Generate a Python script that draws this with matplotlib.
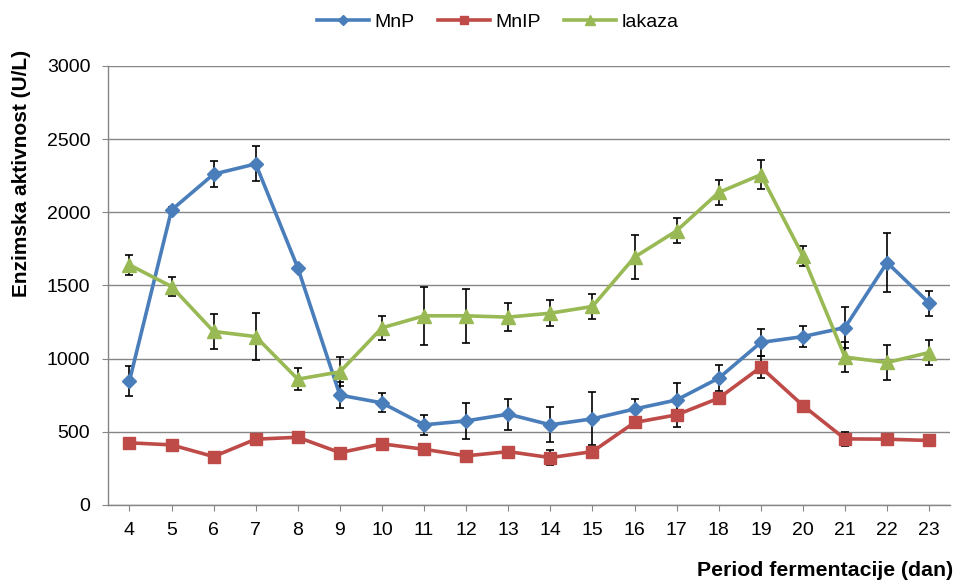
import matplotlib
matplotlib.use("Agg")
import matplotlib.pyplot as plt
import numpy as np

plt.rcParams['font.family'] = ['Liberation Sans', 'DejaVu Sans']

days = [4, 5, 6, 7, 8, 9, 10, 11, 12, 13, 14, 15, 16, 17, 18, 19, 20, 21, 22, 23]
mnp = [847, 2015, 2260, 2330, 1620, 750, 697, 547, 574, 620, 547, 588, 655, 717, 866, 1110, 1150, 1212, 1656, 1379]
mnp_err = [100, 20, 90, 120, 0, 90, 65, 70, 125, 105, 120, 180, 70, 115, 90, 90, 70, 140, 200, 85]
mnip = [424, 410, 330, 449, 462, 357, 417, 380, 335, 364, 323, 364, 563, 615, 729, 941, 679, 451, 449, 440]
mnip_err = [0, 15, 0, 35, 0, 35, 0, 0, 0, 0, 50, 0, 0, 80, 0, 75, 0, 50, 0, 0]
lak = [1640, 1492, 1185, 1150, 859, 909, 1210, 1292, 1292, 1283, 1310, 1356, 1693, 1873, 2135, 2256, 1702, 1010, 973, 1041]
lak_err = [70, 65, 120, 160, 75, 100, 80, 200, 185, 95, 88, 87, 148, 85, 85, 100, 70, 100, 120, 85]

series = [
    ("MnP", mnp, mnp_err, "#4A7EBB", "D", 7.5),
    ("MnIP", mnip, mnip_err, "#BE4B48", "s", 8),
    ("lakaza", lak, lak_err, "#98B954", "^", 10.5),
]

fig = plt.figure(figsize=(9.55, 5.83), dpi=100)
ax = fig.add_axes([0.1135, 0.134, 0.8815, 0.753])

handles = []
for name, vals, err, col, mk, ms in series:
    ax.errorbar(days, vals, yerr=err, fmt='none', ecolor='black', elinewidth=1.2,
                capsize=3, capthick=1.2, zorder=3)
    h, = ax.plot(days, vals, color=col, lw=2.6, marker=mk, markersize=ms,
                 markeredgecolor=col, label=name, zorder=4)
    handles.append(h)

ax.set_xlim(3.5, 23.5)
ax.set_ylim(0, 3000)
ax.set_yticks(np.arange(0, 3001, 500))
ax.set_xticks(days)
ax.set_xticklabels([str(d) for d in days])
ax.tick_params(axis='x', length=4, color='#868686', direction='out', labelsize=14, pad=8)
ax.tick_params(axis='y', length=4, color='#868686', direction='out', labelsize=14, pad=9)

ax.grid(axis='y', color='#868686', lw=1.0, zorder=0)
ax.set_axisbelow(True)
for s in ['top', 'right']:
    ax.spines[s].set_visible(False)
for s in ['left', 'bottom']:
    ax.spines[s].set_color('#868686')
    ax.spines[s].set_linewidth(1.0)

ax.set_ylabel("Enzimska aktivnost (U/L)", fontsize=15, fontweight='bold')
ax.yaxis.set_label_coords(-0.092, 0.756)
fig.text(0.998, 0.022, "Period fermentacije (dan)", fontsize=15.3, fontweight='bold',
         ha='right', va='center')

fig.legend(handles=handles, loc='center', bbox_to_anchor=(0.521, 0.962), ncol=3,
           frameon=False, fontsize=14, handlelength=2.7, columnspacing=1.2,
           handletextpad=0.25, markerscale=0.7)

fig.savefig("out.png", dpi=100)
